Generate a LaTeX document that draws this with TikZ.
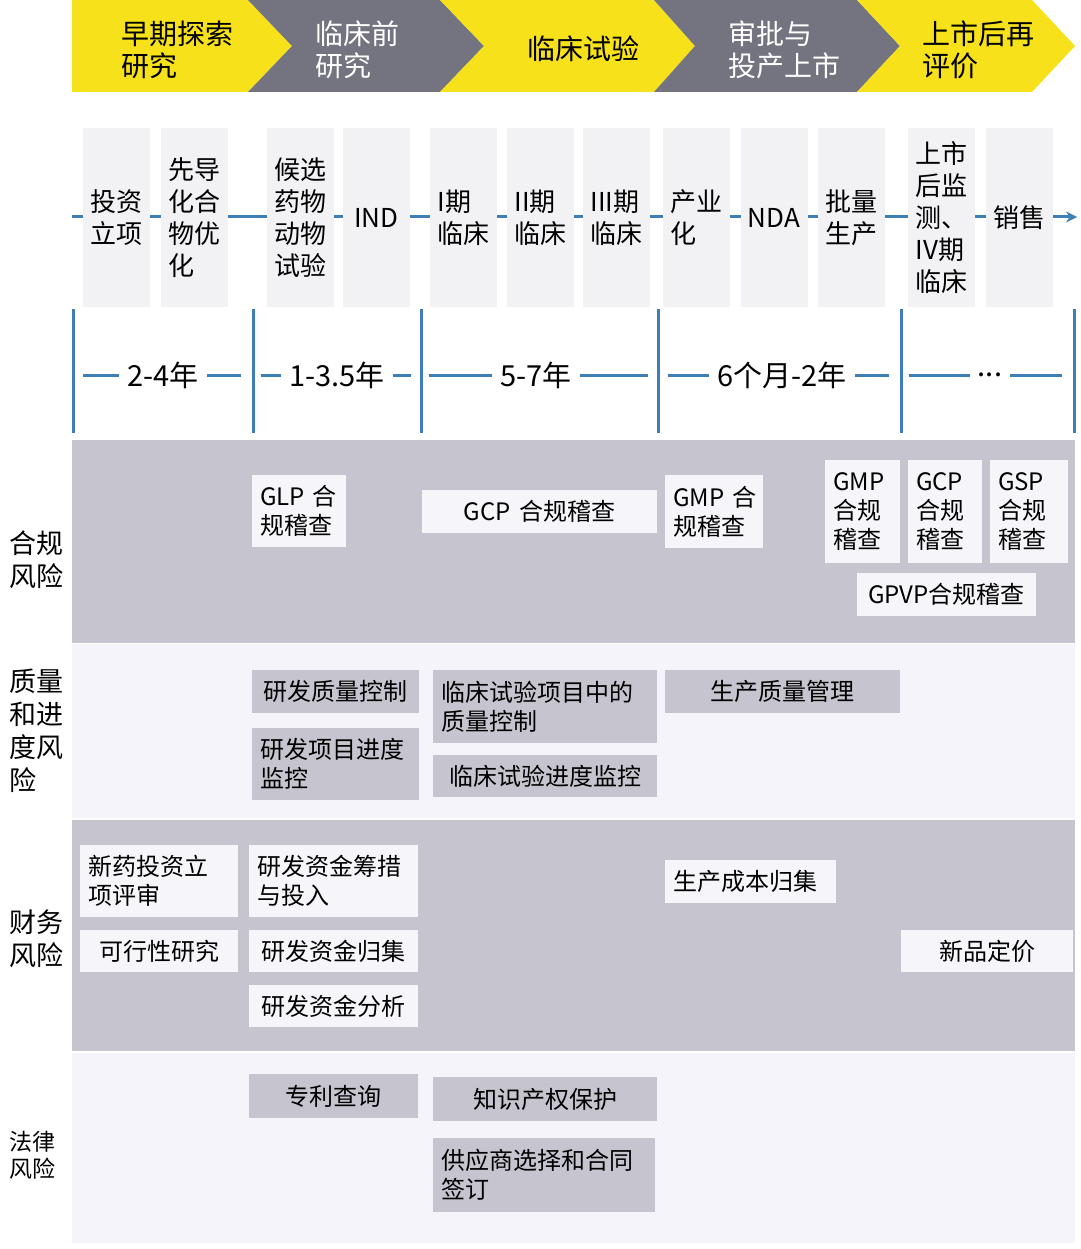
\documentclass[tikz,border=0pt]{standalone}
\usepackage{fontspec}
\setmainfont{Noto Sans CJK SC}
\usetikzlibrary{arrows.meta}
\definecolor{ylw}{HTML}{F6E11A}
\definecolor{gry}{HTML}{747480}
\definecolor{bandg}{HTML}{C6C5CF}
\definecolor{bandl}{HTML}{F4F4FA}
\definecolor{colbg}{HTML}{F2F2F5}
\definecolor{blu}{HTML}{3F7FB8}
\definecolor{boxl}{HTML}{F5F5FA}
\begin{document}
\begin{tikzpicture}[x=1pt,y=-1pt,
  hdr/.style={font=\fontsize{28}{32}\selectfont, align=left, inner sep=0pt},
  colbox/.style={fill=colbg, minimum width=67pt, minimum height=179pt, inner sep=0pt, align=left, font=\fontsize{26}{32}\selectfont},
  dur/.style={fill=white, inner xsep=8pt, inner ysep=2pt, font=\fontsize{29}{32}\selectfont},
  blueline/.style={draw=blu, line width=3pt},
  lbl/.style={anchor=west, align=left, inner sep=0pt, font=\fontsize{27}{33}\selectfont},
  riskbox/.style={inner xsep=8pt, inner ysep=0pt, font=\fontsize{24}{29}\selectfont},
  lightbox/.style={riskbox, fill=boxl},
  greybox/.style={riskbox, fill=bandg}
]
\useasboundingbox (0,0) rectangle (1080,1249);
\fill[white] (0,0) rectangle (1080,1249);

% ---------------- header chevrons
\fill[ylw] (72,0) -- (248,0) -- (292,46) -- (248,92) -- (72,92) -- cycle;
\fill[gry] (248,0) -- (440,0) -- (484,46) -- (440,92) -- (248,92) -- (292,46) -- cycle;
\fill[ylw] (440,0) -- (654,0) -- (695,46) -- (654,92) -- (440,92) -- (484,46) -- cycle;
\fill[gry] (654,0) -- (857,0) -- (900,46) -- (857,92) -- (654,92) -- (695,46) -- cycle;
\fill[ylw] (857,0) -- (1032,0) -- (1075,46) -- (1032,92) -- (857,92) -- (900,46) -- cycle;

\node[hdr, anchor=west] (h1) at (121,50) {早期探索\\研究};
\node[hdr, anchor=west, text=white] (h2) at (315,50) {临床前\\研究};
\node[hdr] (h3) at (583,49) {临床试验};
\node[hdr, anchor=west, text=white] (h4) at (728,50) {审批与\\投产上市};
\node[hdr, anchor=west] (h5) at (922,50) {上市后再\\评价};

% ---------------- timeline
\coordinate (tl0) at (72,217);
\coordinate (tl1) at (1077,217);
\draw[blueline, -{Stealth[length=11pt,width=11pt]}] (tl0) -- (tl1);

\node[colbox] (c1) at (116.5,217.5) {投资\\立项};
\node[colbox] (c2) at (194,217.5) {先导\\化合\\物优\\化};
\node[colbox] (c3) at (300,217.5) {候选\\药物\\动物\\试验};
\node[colbox] (c4) at (376.5,217.5) {IND};
\node[colbox] (c5) at (463.5,217.5) {I期\\临床};
\node[colbox] (c6) at (540.5,217.5) {II期\\临床};
\node[colbox] (c7) at (616.5,217.5) {III期\\临床};
\node[colbox] (c8) at (696,217.5) {产业\\化};
\node[colbox] (c9) at (774,217.5) {NDA};
\node[colbox] (c10) at (851.5,217.5) {批量\\生产};
\node[colbox] (c11) at (941.5,217.5) {上市\\后监\\测、\\IV期\\临床};
\node[colbox] (c12) at (1019,217.5) {销售};

% ---------------- durations
\foreach \x [count=\i] in {73,253,421,658,901,1074} {
  \coordinate (vt\i) at (\x,309);
  \coordinate (vb\i) at (\x,433);
  \draw[blueline] (vt\i) -- (vb\i);
}
\foreach \a/\b [count=\i] in {83/241,261/411,429/648,668/889,909/1062} {
  \coordinate (hl\i) at (\a,375);
  \coordinate (hr\i) at (\b,375);
  \draw[blueline] (hl\i) -- (hr\i);
}
\node[dur] (d1) at (163,375) {2-4年};
\node[dur] (d2) at (337,375) {1-3.5年};
\node[dur] (d3) at (536,375) {5-7年};
\node[dur] (d4) at (782,375) {6个月-2年};
\node[dur] (d5) at (990,375) {...};

% ---------------- risk bands
\fill[bandg] (72,440) rectangle (1075,643);
\fill[bandl] (72,644) rectangle (1075,818);
\fill[bandg] (72,820) rectangle (1075,1051);
\fill[bandl] (72,1053) rectangle (1075,1243);

\node[lbl] (lab1) at (9,560) {合规\\风险};
\node[lbl] (lab2) at (9,731) {质量\\和进\\度风\\险};
\node[lbl] (lab3) at (9,939) {财务\\风险};
\node[lbl, font=\fontsize{23}{27}\selectfont] (lab4) at (9,1155) {法律\\风险};

% band 1: compliance
\node[lightbox, minimum width=94pt, minimum height=72pt, text width=78pt, align=left] (glp) at (299,511) {GLP~合\\规稽查};
\node[lightbox, minimum width=235pt, minimum height=43pt, text width=219pt, align=center] (gcp) at (539.5,511.5) {GCP 合规稽查};
\node[lightbox, minimum width=98pt, minimum height=73pt, text width=82pt, align=left] (gmpa) at (714,511.5) {GMP~合\\规稽查};
\node[lightbox, minimum width=75pt, minimum height=103pt, text width=59pt, align=left] (gmpb) at (862.5,511.5) {GMP\\合规\\稽查};
\node[lightbox, minimum width=74pt, minimum height=103pt, text width=58pt, align=left] (gcpb) at (945,511.5) {GCP\\合规\\稽查};
\node[lightbox, minimum width=78pt, minimum height=103pt, text width=62pt, align=left] (gsp) at (1029,511.5) {GSP\\合规\\稽查};
\node[lightbox, minimum width=179pt, minimum height=43pt, text width=163pt, align=center] (gpvp) at (946.5,594.5) {GPVP合规稽查};

% band 2: quality & progress
\node[greybox, minimum width=167pt, minimum height=43pt, text width=151pt, align=center] (q1) at (335.5,691.5) {研发质量控制};
\node[greybox, minimum width=167pt, minimum height=72pt, text width=151pt, align=left] (q2) at (335.5,764) {研发项目进度\\监控};
\node[greybox, minimum width=224pt, minimum height=73pt, text width=208pt, align=left] (q3) at (545,706.5) {临床试验项目中的\\质量控制};
\node[greybox, minimum width=224pt, minimum height=42pt, text width=208pt, align=center] (q4) at (545,776) {临床试验进度监控};
\node[greybox, minimum width=235pt, minimum height=43pt, text width=219pt, align=center] (q5) at (782.5,691.5) {生产质量管理};

% band 3: finance
\node[lightbox, minimum width=158pt, minimum height=72pt, text width=142pt, align=left] (f1) at (159,881) {新药投资立\\项评审};
\node[lightbox, minimum width=158pt, minimum height=42pt, text width=142pt, align=center] (f2) at (159,951) {可行性研究};
\node[lightbox, minimum width=169pt, minimum height=72pt, text width=153pt, align=left] (f3) at (333.5,881) {研发资金筹措\\与投入};
\node[lightbox, minimum width=169pt, minimum height=42pt, text width=153pt, align=center] (f4) at (333.5,951) {研发资金归集};
\node[lightbox, minimum width=169pt, minimum height=42pt, text width=153pt, align=center] (f5) at (333.5,1006) {研发资金分析};
\node[lightbox, minimum width=171pt, minimum height=43pt, text width=155pt, align=left] (f6) at (750.5,881.5) {生产成本归集};
\node[lightbox, minimum width=172pt, minimum height=42pt, text width=156pt, align=center] (f7) at (987,951) {新品定价};

% band 4: legal
\node[greybox, minimum width=169pt, minimum height=44pt, text width=153pt, align=center] (l1) at (333.5,1096) {专利查询};
\node[greybox, minimum width=224pt, minimum height=44pt, text width=208pt, align=center] (l2) at (545,1099) {知识产权保护};
\node[greybox, minimum width=222pt, minimum height=74pt, text width=206pt, align=left] (l3) at (544,1175) {供应商选择和合同\\签订};
\end{tikzpicture}
\end{document}
